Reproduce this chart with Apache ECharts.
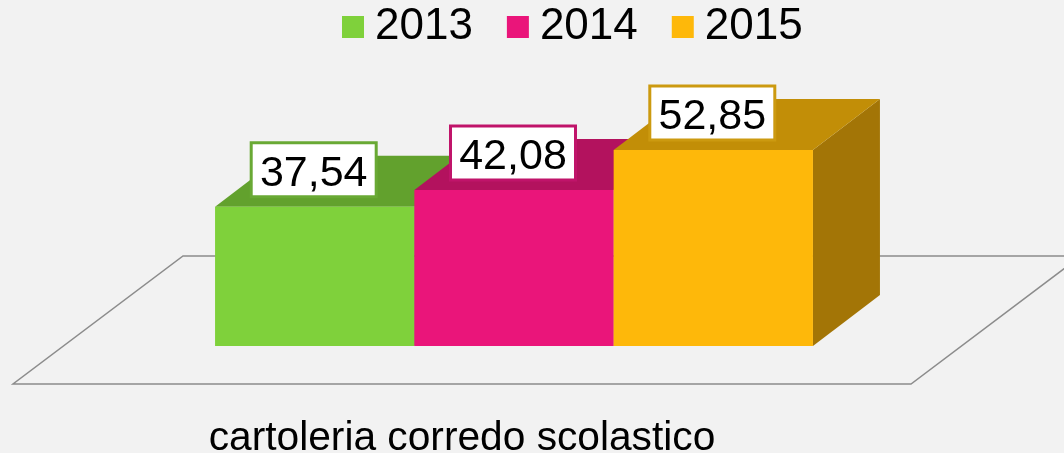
<!DOCTYPE html>
<html>
<head>
<meta charset="utf-8">
<style>
  html,body{margin:0;padding:0;background:#f2f2f2;}
  #chart{width:1064px;height:453px;}
</style>
</head>
<body>
<div id="chart"></div>
<script src="https://cdn.jsdelivr.net/npm/echarts@6/dist/echarts.min.js"></script>
<script>
  var categories = ['cartoleria corredo scolastico']
  var years = ['2013', '2014', '2015']
  var values = [37.54, 42.08, 52.85]
  var frontColors = ['#7fd13b', '#ea157a', '#feb80a']
  var topColors = ['#62a12d', '#b3125e', '#c28e07']
  var sideColors = ['#4c7d23', '#8c0e49', '#a37506']
  var labelBorders = ['#69a934', '#c0146a', '#cc9a10']

  var fontName = '"Liberation Sans", Arial, sans-serif'
  // how far the bars sit behind the front edge of the floor, and how deep they are
  var inset = [52, -38]
  var depth = [67, -51]
  var floorDepth = [170, -128]
  var barShare = 199.3 / 898

  function pts (x, y, list) {
    return list.map(function (p) { return [x + p[0], y + p[1]] })
  }

  function renderBar (i) {
    return function (params, api) {
      var top = api.coord([0, api.value(1)])
      var base = api.coord([0, 0])
      var w = api.size([1, 0])[0] * barShare
      var x = top[0] + inset[0] + (i - 1.5) * w
      var y = top[1] + inset[1]
      var h = base[1] - top[1]
      var dx = depth[0], dy = depth[1]
      var mid = x + w / 2 - 1
      return {
        type: 'group',
        children: [
          { type: 'polygon', shape: { points: pts(x, y, [[w, 0], [w + dx, dy], [w + dx, dy + h], [w, h]]) }, style: { fill: sideColors[i] } },
          { type: 'polygon', shape: { points: pts(x, y, [[0, 0], [dx, dy], [w + dx, dy], [w, 0]]) }, style: { fill: topColors[i] } },
          { type: 'rect', shape: { x: x, y: y, width: w, height: h }, style: { fill: frontColors[i] } },
          // label box is its own rect, the text box of zrender would not sit high enough
          {
            type: 'rect',
            z2: 49,
            shape: { x: mid - 62.5, y: y - 64, width: 125, height: 54 },
            style: { fill: '#fff', stroke: labelBorders[i], lineWidth: 3 }
          },
          {
            type: 'text',
            z2: 50,
            x: mid,
            y: y - 33,
            style: {
              text: api.value(1).toFixed(2).replace('.', ','),
              align: 'center',
              verticalAlign: 'middle',
              font: '43px ' + fontName,
              fill: '#000'
            }
          }
        ]
      }
    }
  }

  function renderFloor (params, api) {
    var g = params.coordSys
    var b = g.y + g.height
    return {
      type: 'polygon',
      silent: true,
      shape: { points: [[g.x, b], [g.x + g.width, b], [g.x + g.width + floorDepth[0], b + floorDepth[1]], [g.x + floorDepth[0], b + floorDepth[1]]] },
      style: { fill: 'none', stroke: '#8c8c8c', lineWidth: 1.5 }
    }
  }

  var series = [{
    name: 'floor',
    type: 'custom',
    renderItem: renderFloor,
    data: [[0, 0]],
    silent: true,
    clip: false
  }]
  years.forEach(function (year, i) {
    series.push({
      name: year,
      type: 'custom',
      renderItem: renderBar(i),
      itemStyle: { color: frontColors[i] },
      encode: { x: 0, y: 1 },
      data: [[0, values[i]]],
      clip: false
    })
  })

  var chart = echarts.init(document.getElementById('chart'), null, { renderer: 'canvas' })
  chart.setOption({
    backgroundColor: '#f2f2f2',
    animation: false,
    legend: {
      data: years,
      left: 342,
      top: 5,
      icon: 'rect',
      itemWidth: 22,
      itemHeight: 22,
      itemGap: 34,
      padding: 0,
      textStyle: { fontFamily: fontName, fontSize: 44, color: '#000', padding: [0, 0, 0, 6] }
    },
    grid: { left: 13, width: 898, top: 161.4, height: 222.6, outerBoundsMode: 'none' },
    xAxis: {
      type: 'category',
      data: categories,
      axisLine: { show: false },
      axisTick: { show: false },
      axisLabel: { fontFamily: fontName, fontSize: 40.7, color: '#000', margin: 34, interval: 0 }
    },
    yAxis: { type: 'value', min: 0, max: 60, show: false },
    series: series
  })
</script>
</body>
</html>
